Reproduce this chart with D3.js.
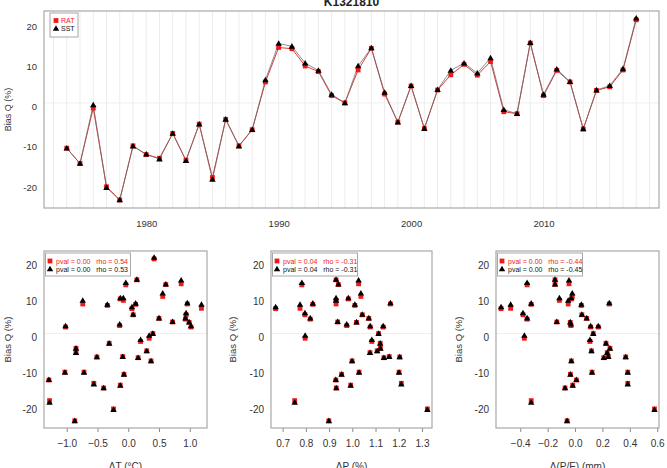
<!DOCTYPE html>
<html>
<head>
<meta charset="utf-8">
<script src="https://cdn.jsdelivr.net/npm/d3@7"></script>
<style>
  body { margin: 0; background: #fff; }
  svg { font-family: "Liberation Sans", Arial, sans-serif; }
</style>
</head>
<body>
<div id="chart"></div>
<script>
// station
var title = 'K1321810';

var years = d3.range(1974, 2018);

// Bias Q (%) per year, one array per forcing
var biasSST = [-10.3, -14.1, 0.5, -20.1, -23.2, -9.8, -11.8, -13.0, -6.6, -13.4,
  -4.3, -18.1, -3.1, -9.8, -5.7, 6.7, 15.8, 15.1, 10.9, 9.1,
  3.1, 1.0, 10.2, 14.7, 3.6, -3.8, 5.3, -5.4, 4.3, 9.1,
  10.9, 8.4, 12.2, -0.7, -1.7, 16.0, 3.1, 9.4, 6.3, -5.5,
  4.2, 5.3, 9.5, 22.1];
var biasRAT = [-10.3, -14.1, -0.3, -19.9, -23.2, -9.7, -11.9, -12.8, -6.6, -13.3,
  -4.3, -17.6, -3.1, -9.7, -5.7, 6.2, 14.8, 14.5, 10.2, 8.8,
  2.8, 1.0, 9.2, 14.6, 3.2, -3.8, 5.2, -5.4, 4.2, 8.0,
  10.6, 7.9, 11.3, -1.2, -1.7, 15.9, 2.8, 9.1, 6.2, -5.5,
  4.1, 5.0, 9.2, 21.7];

// drivers per year
var dT = [-0.07, -0.40, 0.34, -0.24, -0.87, -1.03, -1.29, -0.56, 0.37, -0.13,
  -0.85, -1.28, -0.85, -0.72, 0.16, 0.94, 0.86, -0.04, -0.08, -0.34,
  -1.02, 0.40, -0.74, 0.61, -0.14, 0.30, 0.50, -0.09, 0.72, 1.19,
  -0.13, 0.06, 0.56, 0.20, -0.31, 0.14, 1.02, 0.12, 0.08, -0.51,
  0.99, 0.93, 0.96, 0.42];
var dP = [0.954, 0.931, 0.797, 1.323, 0.899, 1.029, 0.929, 1.211, 0.999, 0.993,
  1.076, 0.752, 1.121, 1.201, 1.136, 0.796, 1.027, 0.783, 0.930, 1.011,
  1.077, 1.113, 0.930, 0.940, 0.976, 1.107, 1.071, 1.159, 0.937, 0.775,
  0.983, 0.670, 1.037, 1.084, 1.120, 0.930, 1.133, 0.830, 1.043, 1.204,
  1.018, 0.819, 1.164, 0.850];
var dPE = [-0.034, -0.073, -0.370, 0.580, -0.058, 0.124, 0.010, 0.385, -0.027, -0.017,
  0.235, -0.320, 0.255, 0.385, 0.210, -0.380, -0.044, -0.350, -0.114, 0.046,
  0.114, 0.133, -0.050, -0.146, -0.030, 0.120, 0.085, 0.243, -0.133, -0.470,
  -0.027, -0.540, -0.020, 0.109, 0.226, -0.146, 0.170, -0.320, 0.050, 0.370,
  -0.035, -0.350, 0.250, -0.300];

var yTicks = [-20, -10, 0, 10, 20];
var yearTicks = [1980, 1990, 2000, 2010];
var dTTicks = [-1.0, -0.5, 0.0, 0.5, 1.0];
var dPTicks = [0.7, 0.8, 0.9, 1.0, 1.1, 1.2, 1.3];
var dPETicks = [-0.4, -0.2, 0.0, 0.2, 0.4, 0.6];

var legendTop = ['RAT', 'SST'];
var statsT = ['pval = 0.00   rho = 0.54', 'pval = 0.00   rho = 0.53'];
var statsP = ['pval = 0.04   rho = -0.31', 'pval = 0.04   rho = -0.31'];
var statsPE = ['pval = 0.00   rho = -0.44', 'pval = 0.00   rho = -0.45'];

var refLine = 1;

var width = 667, height = 468;
var red = '#f01818', txt = '#333', frame = '#a8a8a8';

var svg = d3.select('#chart').append('svg')
  .attr('width', width).attr('height', height);

var yDomain = [-25.2, 23.9];

function drawRedSquare(g, x, y) {
  g.append('path').attr('d', d3.symbol(d3.symbolSquare, 23)())
    .attr('transform', 'translate(' + x + ',' + y + ')').attr('fill', red);
}
function drawTriangle(g, x, y) {
  g.append('path').attr('d', d3.symbol(d3.symbolTriangle, 18)())
    .attr('transform', 'translate(' + x + ',' + (y + 0.5) + ')').attr('fill', '#000');
}

function frameAndAxes(box, x, y, xTicks, xFmt, xTickSize, fontSize, xLabel) {
  var g = svg.append('g');
  // y labels
  g.selectAll('.ylab').data(yTicks).enter().append('text')
    .attr('x', box.x0 - 7).attr('y', d => y(d) + fontSize * 0.36)
    .attr('text-anchor', 'end').attr('font-size', fontSize).attr('fill', txt)
    .text(d => d);
  // x axis
  var ax = g.append('g').attr('transform', 'translate(0,' + box.y1 + ')')
    .call(d3.axisBottom(x).tickValues(xTicks).tickFormat(xFmt)
      .tickSize(xTickSize).tickPadding(xTickSize ? 8 : 12));
  ax.select('.domain').remove();
  ax.selectAll('line').attr('stroke', '#888');
  ax.selectAll('text').attr('font-size', fontSize).attr('fill', txt)
    .attr('font-family', '"Liberation Sans", Arial, sans-serif');
  // y title
  g.append('text')
    .attr('transform', 'translate(' + box.ylx + ',' + ((box.y0 + box.y1) / 2) + ') rotate(-90)')
    .attr('text-anchor', 'middle').attr('font-size', fontSize - 0.5).attr('fill', txt)
    .text('Bias Q (%)');
  if (xLabel) {
    g.append('text').attr('x', (box.x0 + box.x1) / 2).attr('y', box.y1 + 42)
      .attr('text-anchor', 'middle').attr('font-size', fontSize).attr('fill', txt)
      .text(xLabel);
  }
  return g;
}

function drawFrame(box) {
  svg.append('rect').attr('x', box.x0).attr('y', box.y0)
    .attr('width', box.x1 - box.x0).attr('height', box.y1 - box.y0)
    .attr('fill', 'none').attr('stroke', frame).attr('stroke-width', 1.2);
}

// ---------- time series ----------
var topBox = {x0: 44, x1: 659, y0: 11, y1: 208, ylx: 11};
var xYear = d3.scaleLinear().domain([1972.28, 2018.72]).range([topBox.x0, topBox.x1]);
var yTop = d3.scaleLinear().domain(yDomain).range([topBox.y1, topBox.y0]);

svg.append('text').attr('x', (topBox.x0 + topBox.x1) / 2).attr('y', 6)
  .attr('text-anchor', 'middle').attr('font-size', 12).attr('font-weight', 'bold')
  .attr('fill', '#222').text(title);

var grid = svg.append('g');
grid.selectAll('line').data(d3.range(1973, 2019)).enter().append('line')
  .attr('x1', d => xYear(d)).attr('x2', d => xYear(d))
  .attr('y1', topBox.y0).attr('y2', topBox.y1)
  .attr('stroke', '#ececec').attr('stroke-width', 1);
grid.append('line').attr('x1', topBox.x0).attr('x2', topBox.x1)
  .attr('y1', yTop(refLine)).attr('y2', yTop(refLine))
  .attr('stroke', '#efefef');

frameAndAxes(topBox, xYear, yTop, yearTicks, d3.format('d'), 0, 9.5, null);

var lineRAT = d3.line().x((d, i) => xYear(years[i])).y(d => yTop(d));
svg.append('path').datum(biasRAT).attr('d', lineRAT)
  .attr('fill', 'none').attr('stroke', '#e03a3a').attr('stroke-width', 1);
svg.append('path').datum(biasSST).attr('d', lineRAT)
  .attr('fill', 'none').attr('stroke', '#6b6b6b').attr('stroke-width', 0.9).attr('stroke-opacity', 0.85);

var pts = svg.append('g');
years.forEach(function(yr, i) { drawRedSquare(pts, xYear(yr), yTop(biasRAT[i])); });
years.forEach(function(yr, i) { drawTriangle(pts, xYear(yr), yTop(biasSST[i])); });

drawFrame(topBox);

// legend
var lg = svg.append('g');
lg.append('rect').attr('x', 50).attr('y', 13).attr('width', 28).attr('height', 24)
  .attr('fill', '#fff').attr('stroke', frame);
drawRedSquare(lg, 56, 20.5);
drawTriangle(lg, 56, 28.5);
lg.append('text').attr('x', 61).attr('y', 23).attr('font-size', 7).attr('fill', red).text(legendTop[0]);
lg.append('text').attr('x', 61).attr('y', 31).attr('font-size', 7).attr('fill', '#111').text(legendTop[1]);

// ---------- scatter plots ----------
function scatter(box, xDomain, xVals, xTicks, xLabel, stats) {
  var x = d3.scaleLinear().domain(xDomain).range([box.x0, box.x1]);
  var y = d3.scaleLinear().domain(yDomain).range([box.y1, box.y0]);
  svg.append('line').attr('x1', box.x0).attr('x2', box.x1)
    .attr('y1', y(refLine)).attr('y2', y(refLine)).attr('stroke', '#efefef');
  frameAndAxes(box, x, y, xTicks, d3.format('.1f'), 4, 10, xLabel);
  var g = svg.append('g');
  xVals.forEach(function(v, i) { drawRedSquare(g, x(v), y(biasRAT[i])); });
  xVals.forEach(function(v, i) { drawTriangle(g, x(v), y(biasSST[i])); });
  drawFrame(box);
  var lgd = svg.append('g');
  lgd.append('rect').attr('x', box.x0 + 1.5).attr('y', box.y0 + 2)
    .attr('width', 85).attr('height', 23).attr('fill', '#fff').attr('stroke', frame);
  drawRedSquare(lgd, box.x0 + 6, box.y0 + 10);
  drawTriangle(lgd, box.x0 + 6, box.y0 + 18);
  lgd.append('text').attr('x', box.x0 + 12).attr('y', box.y0 + 12.5)
    .attr('font-size', 7).attr('fill', red).attr('xml:space', 'preserve').text(stats[0]);
  lgd.append('text').attr('x', box.x0 + 12).attr('y', box.y0 + 20.5)
    .attr('font-size', 7).attr('fill', '#111').attr('xml:space', 'preserve').text(stats[1]);
}

scatter({x0: 44, x1: 207, y0: 251, y1: 428, ylx: 11}, [-1.37, 1.28], dT, dTTicks, 'ΔT (°C)', statsT);
scatter({x0: 271, x1: 432, y0: 251, y1: 428, ylx: 236}, [0.65, 1.343], dP, dPTicks, 'ΔP (%)', statsP);
scatter({x0: 496, x1: 659, y0: 251, y1: 428, ylx: 462}, [-0.577, 0.613], dPE, dPETicks, 'Δ(P/E) (mm)', statsPE);
</script>
</body>
</html>
